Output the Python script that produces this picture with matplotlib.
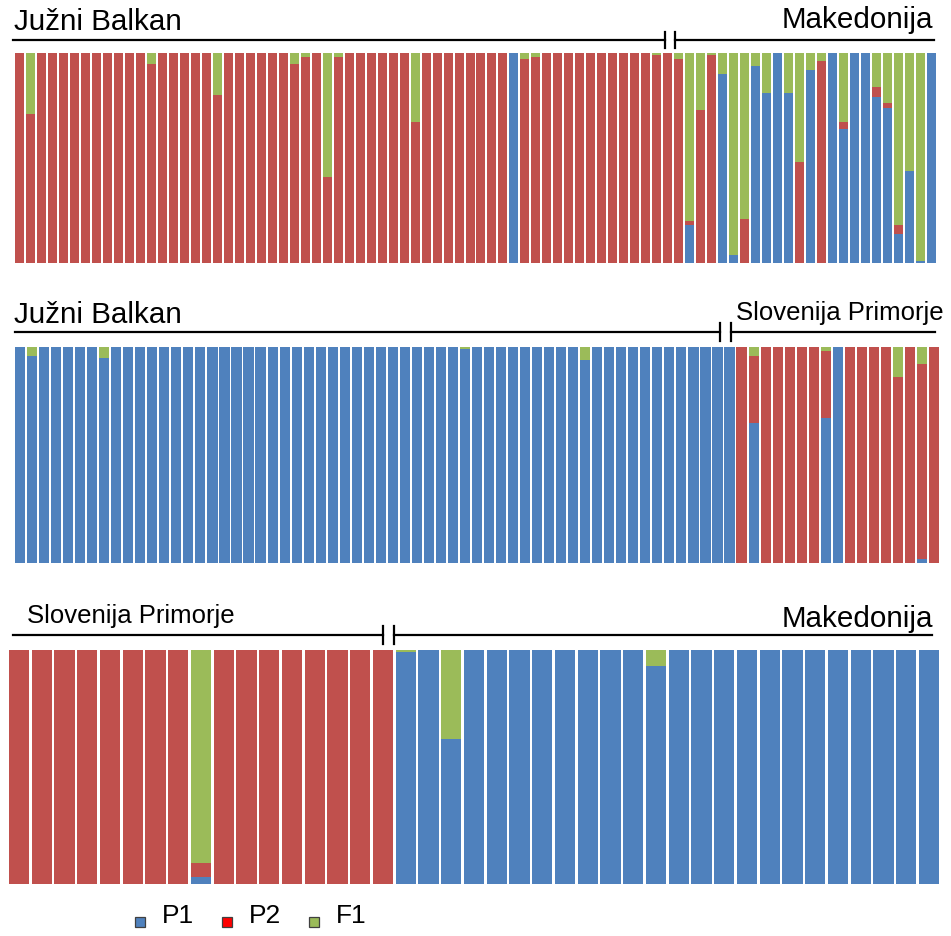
import matplotlib
matplotlib.use("Agg")
import matplotlib.pyplot as plt
from matplotlib.lines import Line2D
from matplotlib.patches import Rectangle

plt.rcParams['font.family'] = ['Liberation Sans', 'DejaVu Sans']

BLUE = '#4F81BD'
RED = '#C0504D'
GREEN = '#9BBB59'

# Panel 1: Južni Balkan (0-59), Makedonija (60-83)
top_p1 = [0, 0, 0, 0, 0, 0, 0, 0, 0, 0, 0, 0,
          0, 0, 0, 0, 0, 0, 0, 0, 0, 0, 0, 0,
          0, 0, 0, 0, 0, 0, 0, 0, 0, 0, 0, 0,
          0, 0, 0, 0, 0, 0, 0, 0, 0, 1, 0, 0,
          0, 0, 0, 0, 0, 0, 0, 0, 0, 0, 0, 0,
          0, .18, 0, 0, .90, .04, 0, .94, .81, 1, .81, 0,
          .92, 0, 1, .64, 1, 1, .79, .74, .14, .44, .01, 1]
top_p2 = [1, .71, 1, 1, 1, 1, 1, 1, 1, 1, 1, 1,
          .95, 1, 1, 1, 1, 1, .80, 1, 1, 1, 1, 1,
          1, .95, .98, 1, .41, .98, 1, 1, 1, 1, 1, 1,
          .67, 1, 1, 1, 1, 1, 1, 1, 1, 0, .97, .98,
          1, 1, 1, 1, 1, 1, 1, 1, 1, 1, .99, 1,
          .97, .02, .73, .99, 0, 0, .21, 0, 0, 0, 0, .48,
          0, .96, 0, .03, 0, 0, .05, .02, .04, 0, 0, 0]
top_f1 = [0, .29, 0, 0, 0, 0, 0, 0, 0, 0, 0, 0,
          .05, 0, 0, 0, 0, 0, .20, 0, 0, 0, 0, 0,
          0, .05, .02, 0, .59, .02, 0, 0, 0, 0, 0, 0,
          .33, 0, 0, 0, 0, 0, 0, 0, 0, 0, .03, .02,
          0, 0, 0, 0, 0, 0, 0, 0, 0, 0, .01, 0,
          .03, .80, .27, .01, .10, .96, .79, .06, .19, 0, .19, .52,
          .08, .04, 0, .33, 0, 0, .16, .24, .82, .56, .99, 0]

# Panel 2: Južni Balkan (0-59), Slovenija Primorje (60-76)
mid_p1 = [1, .96, 1, 1, 1, 1, 1, .95, 1, 1, 1, 1,
          1, 1, 1, 1, 1, 1, 1, 1, 1, 1, 1, 1,
          1, 1, 1, 1, 1, 1, 1, 1, 1, 1, 1, 1,
          1, .99, 1, 1, 1, 1, 1, 1, 1, 1, 1, .94,
          1, 1, 1, 1, 1, 1, 1, 1, 1, 1, 1, 1,
          0, .65, 0, 0, 0, 0, 0, .67, 1, 0, 0, 0,
          0, 0, 0, .02, 0]
mid_p2 = [0, 0, 0, 0, 0, 0, 0, 0, 0, 0, 0, 0,
          0, 0, 0, 0, 0, 0, 0, 0, 0, 0, 0, 0,
          0, 0, 0, 0, 0, 0, 0, 0, 0, 0, 0, 0,
          0, 0, 0, 0, 0, 0, 0, 0, 0, 0, 0, 0,
          0, 0, 0, 0, 0, 0, 0, 0, 0, 0, 0, 0,
          1, .31, 1, 1, 1, 1, 1, .31, 0, 1, 1, 1,
          1, .86, 1, .90, 1]
mid_f1 = [0, .04, 0, 0, 0, 0, 0, .05, 0, 0, 0, 0,
          0, 0, 0, 0, 0, 0, 0, 0, 0, 0, 0, 0,
          0, 0, 0, 0, 0, 0, 0, 0, 0, 0, 0, 0,
          0, .01, 0, 0, 0, 0, 0, 0, 0, 0, 0, .06,
          0, 0, 0, 0, 0, 0, 0, 0, 0, 0, 0, 0,
          0, .04, 0, 0, 0, 0, 0, .02, 0, 0, 0, 0,
          0, .14, 0, .08, 0]

# Panel 3: Slovenija Primorje (0-16), Makedonija (17-40)
bot_p1 = [0, 0, 0, 0, 0, 0, 0, 0, .03, 0, 0, 0, 0, 0, 0, 0, 0,
          .99, 1, .62, 1, 1, 1, 1, 1, 1, 1, 1, .93, 1, 1, 1,
          1, 1, 1, 1, 1, 1, 1, 1, 1]
bot_p2 = [1, 1, 1, 1, 1, 1, 1, 1, .06, 1, 1, 1, 1, 1, 1, 1, 1,
          0, 0, 0, 0, 0, 0, 0, 0, 0, 0, 0, 0, 0, 0, 0,
          0, 0, 0, 0, 0, 0, 0, 0, 0]
bot_f1 = [0, 0, 0, 0, 0, 0, 0, 0, .91, 0, 0, 0, 0, 0, 0, 0, 0,
          .01, 0, .38, 0, 0, 0, 0, 0, 0, 0, 0, .07, 0, 0, 0,
          0, 0, 0, 0, 0, 0, 0, 0, 0]

legend_labels = ['P1', 'P2', 'F1']
legend_colors = [BLUE, '#FF0000', GREEN]

W, H = 951, 936
fig = plt.figure(figsize=(W / 100, H / 100), dpi=100)


def fx(x):
    return x / W


def fy(y):
    return 1 - y / H


def structure_panel(box, p1, p2, f1, width):
    x0, x1, y0, y1 = box
    ax = fig.add_axes([fx(x0), fy(y1), fx(x1 - x0), (y1 - y0) / H])
    idx = range(len(p1))
    ax.bar(idx, p1, width=width, color=BLUE, linewidth=0)
    ax.bar(idx, p2, width=width, bottom=p1, color=RED, linewidth=0)
    base = [a + b for a, b in zip(p1, p2)]
    ax.bar(idx, f1, width=width, bottom=base, color=GREEN, linewidth=0)
    ax.set_xlim(-width / 2, len(p1) - 1 + width / 2)
    ax.set_ylim(0, 1)
    ax.axis('off')
    return ax


def bracket(y, xa, xb, xc, xd, tick=9):
    # two group lines with a break marker between them
    kw = dict(color='black', lw=1.6, transform=fig.transFigure)
    fig.add_artist(Line2D([fx(xa), fx(xb)], [fy(y), fy(y)], **kw))
    fig.add_artist(Line2D([fx(xc), fx(xd)], [fy(y), fy(y)], **kw))
    for xt in (xb, xc):
        fig.add_artist(Line2D([fx(xt), fx(xt)], [fy(y - tick), fy(y + tick)], **kw))


structure_panel((15, 936, 53, 263), top_p1, top_p2, top_f1, 0.82)
structure_panel((15, 939, 347, 563), mid_p1, mid_p2, mid_f1, 0.84)
structure_panel((9, 939, 650, 884), bot_p1, bot_p2, bot_f1, 0.89)

bracket(40, 13, 665, 675, 934, tick=8)
bracket(332, 15, 720, 731, 935)
bracket(635, 13, 383, 394, 932)

big = 21.3
small = 18.5
fig.text(fx(14), fy(30), 'Južni Balkan', fontsize=big, va='baseline')
fig.text(fx(933), fy(28), 'Makedonija', fontsize=big, ha='right', va='baseline')
fig.text(fx(14), fy(323), 'Južni Balkan', fontsize=big, va='baseline')
fig.text(fx(736), fy(320), 'Slovenija Primorje', fontsize=small, va='baseline')
fig.text(fx(27), fy(623), 'Slovenija Primorje', fontsize=small, va='baseline')
fig.text(fx(933), fy(627), 'Makedonija', fontsize=big, ha='right', va='baseline')

# legend
for i, (lab, col) in enumerate(zip(legend_labels, legend_colors)):
    cx = 140 + i * 87
    fig.add_artist(Rectangle((fx(cx - 5), fy(927)), 10 / W, 10 / H,
                             facecolor=col, edgecolor='#404040', lw=0.9,
                             transform=fig.transFigure))
    fig.text(fx(cx + 22), fy(923), lab, fontsize=19, va='baseline')

fig.savefig('out.png', dpi=100, facecolor='white')
